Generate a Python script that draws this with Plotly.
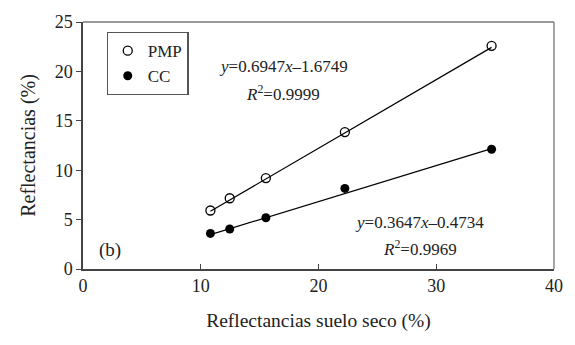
import plotly.graph_objects as go

x_seco = [10.82, 12.46, 15.53, 22.24, 34.7]
pmp = [5.92, 7.16, 9.2, 13.86, 22.59]
cc = [3.6, 4.05, 5.19, 8.16, 12.12]
fit_pmp = (0.6947, -1.6749)
fit_cc = (0.3647, -0.4734)
x_ticks = [0, 10, 20, 30, 40]
y_ticks = [0, 5, 10, 15, 20, 25]

FONT = "Liberation Serif, Times New Roman, serif"
fig = go.Figure()

for (m, b) in (fit_pmp, fit_cc):
    xs = [min(x_seco), max(x_seco)]
    fig.add_trace(go.Scatter(x=xs, y=[m * v + b for v in xs], mode="lines",
                             line=dict(color="black", width=1.2),
                             showlegend=False, hoverinfo="skip"))

fig.add_trace(go.Scatter(x=x_seco, y=pmp, mode="markers", name="PMP",
                         marker=dict(symbol="circle-open", size=9, color="black",
                                     line=dict(width=1.3, color="black"))))
fig.add_trace(go.Scatter(x=x_seco, y=cc, mode="markers", name="CC",
                         marker=dict(symbol="circle", size=9, color="black")))

fig.update_layout(
    width=575, height=345,
    margin=dict(l=83, r=19, t=20, b=76),
    plot_bgcolor="white", paper_bgcolor="white",
    font=dict(family=FONT, size=18, color="#222"),
    showlegend=True,
    legend=dict(x=0.05, y=0.96, xanchor="left", yanchor="top",
                bordercolor="#555", borderwidth=1.2, bgcolor="white",
                font=dict(family=FONT, size=17), itemwidth=30,
                tracegroupgap=0),
    xaxis=dict(range=[0, 40], tickvals=x_ticks, ticks="inside", ticklen=5,
               tickfont=dict(family=FONT, size=18),
               tickcolor="#444", showline=True, linecolor="#444", linewidth=1.5,
               mirror=False, showgrid=False, zeroline=False,
               title=dict(text="Reflectancias suelo seco (%)", standoff=18,
                          font=dict(family=FONT, size=19.5))),
    yaxis=dict(range=[0, 25], tickvals=y_ticks, ticks="outside", ticklen=5,
               tickfont=dict(family=FONT, size=18),
               tickcolor="#444", showline=True, linecolor="#444", linewidth=1.5,
               showgrid=False, zeroline=False,
               title=dict(text="Reflectancias (%)", standoff=14,
                          font=dict(family=FONT, size=20))),
    shapes=[
        dict(type="line", xref="paper", yref="paper", x0=0, x1=1, y0=1, y1=1,
             line=dict(color="#777", width=1.3)),
        dict(type="line", xref="paper", yref="paper", x0=1, x1=1, y0=0, y1=1,
             line=dict(color="#777", width=1.3)),
    ],
    annotations=[
        dict(x=17.0, y=20.5, text="<i>y</i>=0.6947<i>x</i>–1.6749", showarrow=False,
             font=dict(family=FONT, size=17)),
        dict(x=17.0, y=17.8, text="<i>R</i><sup>2</sup>=0.9999", showarrow=False,
             font=dict(family=FONT, size=17)),
        dict(x=28.6, y=4.7, text="<i>y</i>=0.3647<i>x</i>–0.4734", showarrow=False,
             font=dict(family=FONT, size=17)),
        dict(x=28.6, y=2.1, text="<i>R</i><sup>2</sup>=0.9969", showarrow=False,
             font=dict(family=FONT, size=17)),
        dict(x=2.3, y=1.9, text="(b)", showarrow=False,
             font=dict(family=FONT, size=19)),
    ],
)

fig.write_html("out.html", config={"displayModeBar": False},
               post_script="document.body.style.margin='0';document.body.style.padding='0';")
